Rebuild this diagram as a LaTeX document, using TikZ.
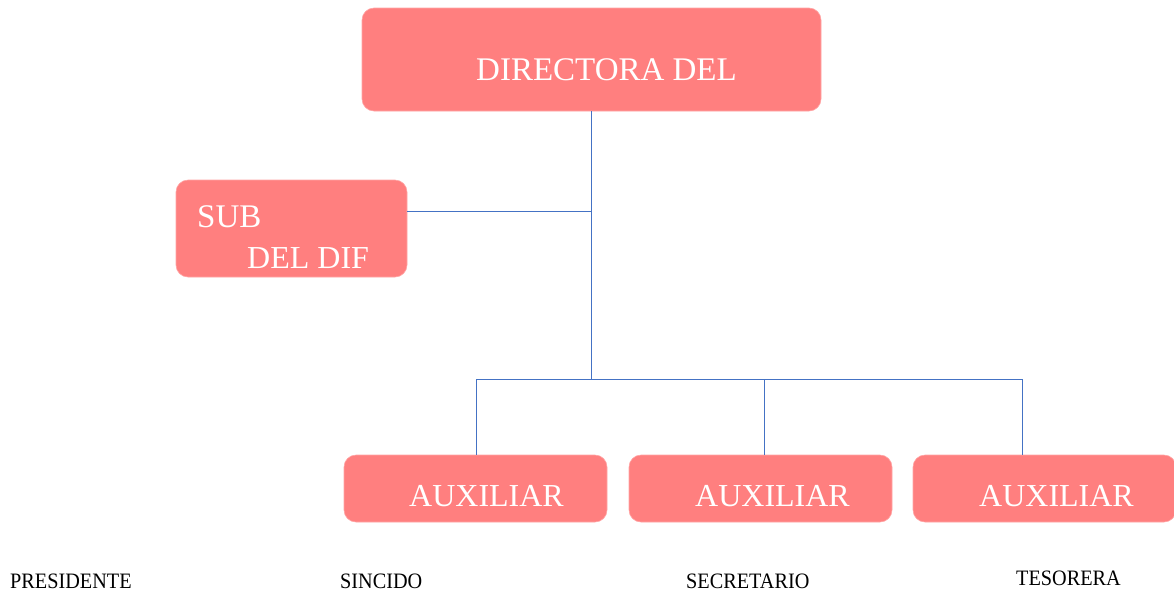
\documentclass[tikz,border=0pt]{standalone}
\usepackage{fontspec}
\setmainfont{Liberation Serif}
\definecolor{boxpink}{HTML}{FF7F7F}
\definecolor{linkblue}{HTML}{4472C4}
\begin{document}
\begin{tikzpicture}[x=1pt,y=-1pt,
  pinkbox/.style={fill=boxpink,draw=boxpink!70!white,line width=0.6pt,rounded corners=12pt},
  boxtext/.style={text=white,font=\fontsize{32}{36}\selectfont,inner sep=0pt,anchor=base west},
  link/.style={draw=linkblue,line width=0.8pt},
  bottomlabel/.style={font=\fontsize{22}{26}\selectfont,inner sep=0pt,anchor=base west}]
\useasboundingbox (0,0) rectangle (1174,595);
% boxes
\path[pinkbox] (362,8) rectangle (821,111);
\coordinate (dirb) at (591,111);
\node[boxtext,font=\fontsize{33}{36}\selectfont] (dirt) at (476,80) {DIRECTORA DEL};

\path[pinkbox] (176,180) rectangle (407,277);
\coordinate (subr) at (407,211);
\node[boxtext,font=\fontsize{33}{36}\selectfont] (subt) at (197,227) {SUB};
\node[boxtext] (subt2) at (247,268) {DEL DIF};

\path[pinkbox] (344,455) rectangle (607,522);
\path[pinkbox] (629,455) rectangle (892,522);
\path[pinkbox] (913,455) rectangle (1176,522);
\coordinate (a1) at (476,455);
\coordinate (a2) at (764,455);
\coordinate (a3) at (1022,455);
\node[boxtext] (aux1) at (409,506) {AUXILIAR};
\node[boxtext] (aux2) at (695,506) {AUXILIAR};
\node[boxtext] (aux3) at (979,506) {AUXILIAR};

% connectors
\coordinate (j1) at (591,211);
\coordinate (j2) at (591,379);
\coordinate (h1) at (476,379);
\coordinate (h2) at (764,379);
\coordinate (h3) at (1022,379);
\draw[link] (dirb) -- (j2);
\draw[link] (subr) -- (j1);
\draw[link] (h1) -- (h3);
\draw[link] (h1) -- (a1);
\draw[link] (h2) -- (a2);
\draw[link] (h3) -- (a3);

% bottom labels
\node[bottomlabel,xscale=0.92] (p) at (10,588) {PRESIDENTE};
\node[bottomlabel,xscale=0.92] (s) at (340,588) {SINCIDO};
\node[bottomlabel,xscale=0.92] (sc) at (686,588) {SECRETARIO};
\node[bottomlabel,xscale=0.92] (t) at (1016,585) {TESORERA};
\end{tikzpicture}
\end{document}
